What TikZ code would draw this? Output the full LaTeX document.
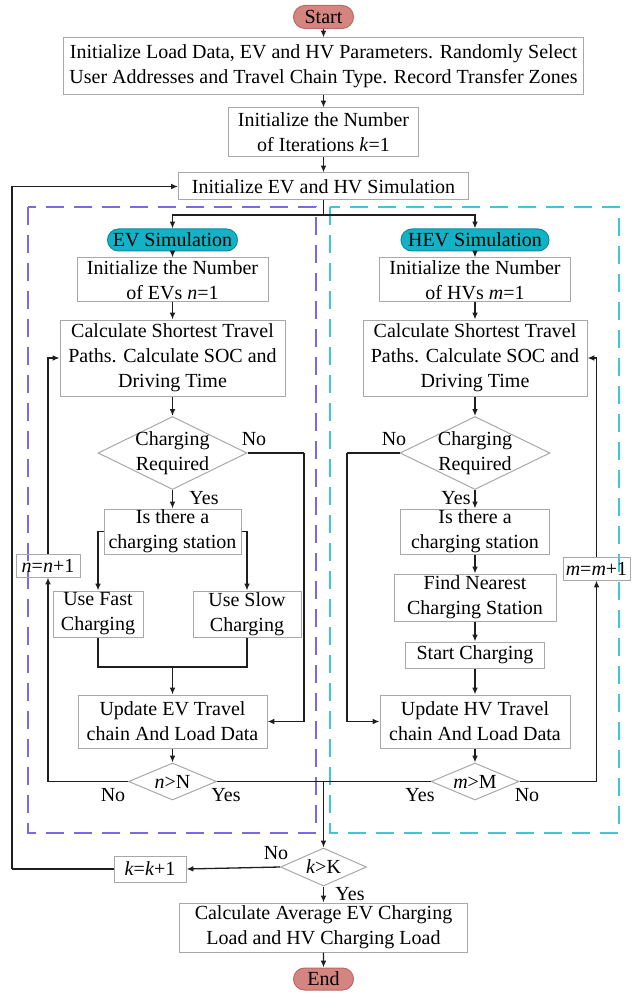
\documentclass[tikz,border=0pt]{standalone}
\usepackage{fontspec}
\setmainfont{Liberation Serif}
\usetikzlibrary{shapes.geometric,shapes.misc,arrows.meta}
\definecolor{boxgray}{HTML}{A8A8A8}
\definecolor{linec}{HTML}{1E1E1E}
\definecolor{pillred}{HTML}{D4857F}
\definecolor{pillredb}{HTML}{B96A66}
\definecolor{pillcyan}{HTML}{14B2C6}
\definecolor{pillcyanb}{HTML}{0A8C9E}
\definecolor{dashpurple}{HTML}{7A6AE2}
\definecolor{dashcyan}{HTML}{3CC6D8}
\begin{document}
\begin{tikzpicture}[x=0.5pt,y=-0.5pt,
  font=\fontsize{10}{12.5}\selectfont,
  bx/.style 2 args={draw=boxgray, line width=0.5pt, minimum width=#1*0.5pt, minimum height=#2*0.5pt, inner sep=0pt, align=center},
  dia/.style 2 args={draw=boxgray, line width=0.5pt, diamond, minimum width=#1*0.5pt, minimum height=#2*0.5pt, inner sep=0pt},
  pillr/.style 2 args={rounded rectangle, draw=pillredb, fill=pillred, line width=0.5pt, minimum width=#1*0.5pt, minimum height=#2*0.5pt, inner sep=0pt},
  pillc/.style 2 args={rounded rectangle, draw=pillcyanb, fill=pillcyan, line width=0.5pt, minimum width=#1*0.5pt, minimum height=#2*0.5pt, inner sep=0pt},
  txt/.style={inner sep=0pt, align=center},
  lbl/.style={inner sep=0pt},
  ln/.style={draw=linec, line width=0.65pt},
  arr/.style={draw=linec, line width=0.65pt, -{Latex[length=3.4pt,width=2.8pt]}},
  zonep/.style={draw=dashpurple, line width=0.6pt, dash pattern=on 9pt off 5pt},
  zonec/.style={draw=dashcyan, line width=0.75pt, dash pattern=on 9pt off 5pt}]
\useasboundingbox (0,0) rectangle (633,994);

% dashed zones
\draw[zonep] (28,207) rectangle (316,833);
\draw[zonec] (330,207) rectangle (619,833);

% main column
\node[pillr={60}{23}] (start) at (323.5,17) {Start};
\node[bx={520}{57}] (init) at (323.5,66.5) {Initialize Load Data, EV and HV Parameters. Randomly Select\\User Addresses and Travel Chain Type. Record Transfer Zones};
\node[bx={190}{49}] (iter) at (323.5,132.5) {Initialize the Number\\of Iterations \textit{k}=1};
\node[bx={290}{27}] (initsim) at (323.5,186.5) {Initialize EV and HV Simulation};

% EV column
\node[pillc={130}{22}] (evsim) at (172.5,240) {EV Simulation};
\node[bx={191}{44}] (evn) at (172.5,280) {Initialize the Number\\of EVs \textit{n}=1};
\node[bx={225}{76}] (evcalc) at (172.5,358) {Calculate Shortest Travel\\Paths. Calculate SOC and\\Driving Time};
\node[dia={149}{73}] (evq) at (172.5,453) {};
\node[txt] at (evq) {Charging\\Required};
\node[bx={137}{45}] (evst) at (172.5,531.5) {Is there a\\charging station};
\node[bx={90}{46}] (fast) at (98,614) {Use Fast\\Charging};
\node[bx={108}{46}] (slow) at (247,614) {Use Slow\\Charging};
\node[bx={189}{53}] (evupd) at (172.5,721.5) {Update EV Travel\\chain And Load Data};
\node[dia={88}{37}] (nq) at (172.5,781.5) {};
\node[txt] at (nq) {\textit{n}>N};
\node[bx={64}{23}] (ninc) at (48,565.5) {\textit{n}=\textit{n}+1};

% HEV column
\node[pillc={148}{22}] (hevsim) at (475,240) {HEV Simulation};
\node[bx={191}{44}] (hvm) at (475,280) {Initialize the Number\\of HVs \textit{m}=1};
\node[bx={224}{76}] (hvcalc) at (475,358) {Calculate Shortest Travel\\Paths. Calculate SOC and\\Driving Time};
\node[dia={150}{73}] (hvq) at (475,453) {};
\node[txt] at (hvq) {Charging\\Required};
\node[bx={149}{45}] (hvst) at (475,531.5) {Is there a\\charging station};
\node[bx={162}{47}] (find) at (475,597.5) {Find Nearest\\Charging Station};
\node[bx={139}{26}] (startch) at (475,655) {Start Charging};
\node[bx={190}{53}] (hvupd) at (475,721.5) {Update HV Travel\\chain And Load Data};
\node[dia={88}{37}] (mq) at (475,781.5) {};
\node[txt] at (mq) {\textit{m}>M};
\node[bx={67}{23}] (minc) at (596.5,568.5) {\textit{m}=\textit{m}+1};

% bottom
\node[dia={86}{38}] (kq) at (323.5,867) {};
\node[txt] at (kq) {\textit{k}>K};
\node[bx={72}{26}] (kinc) at (150,869) {\textit{k}=\textit{k}+1};
\node[bx={288}{49}] (avg) at (323.5,927.5) {Calculate Average EV Charging\\Load and HV Charging Load};
\node[pillr={60}{22}] (end) at (323.5,979) {End};

% coordinates
\coordinate (sp) at (323.5,215);
\coordinate (evno) at (304,453);
\coordinate (hvno) at (347,453);
\coordinate (mg) at (172.5,667);
\coordinate (jn) at (323.5,781.5);
\coordinate (klp) at (12,869);

% main connectors
\draw[arr] (start) -- (init);
\draw[arr] (init) -- (iter);
\draw[arr] (iter) -- (initsim);
\draw[ln] (initsim.south) -- (sp);
\draw[arr] (sp) -| (evsim.north);
\draw[arr] (sp) -| (hevsim.north);

% EV connectors
\draw[arr] (evsim) -- (evn);
\draw[arr] (evn) -- (evcalc);
\draw[arr] (evcalc) -- (evq);
\draw[arr] (evq.south) -- (evst.north);
\draw[ln] (evq.east) -- (evno);
\draw[arr] (evno) |- (evupd.east);
\draw[arr] (evst.west) -| (fast.north);
\draw[arr] (evst.east) -| (slow.north);
\draw[ln] (fast.south) |- (mg) -| (slow.south);
\draw[arr] (mg) -- (evupd.north);
\draw[arr] (evupd) -- (nq);
\draw[arr] (nq.west) -| (ninc.south);
\draw[arr] (ninc.north) |- (evcalc.west);

% HEV connectors
\draw[arr] (hevsim) -- (hvm);
\draw[arr] (hvm) -- (hvcalc);
\draw[arr] (hvcalc) -- (hvq);
\draw[arr] (hvq.south) -- (hvst.north);
\draw[ln] (hvq.west) -- (hvno);
\draw[arr] (hvno) |- (hvupd.west);
\draw[arr] (hvst) -- (find);
\draw[arr] (find) -- (startch);
\draw[arr] (startch) -- (hvupd);
\draw[arr] (hvupd) -- (mq);
\draw[arr] (mq.east) -| (minc.south);
\draw[arr] (minc.north) |- (hvcalc.east);

% bottom connectors
\draw[ln] (nq.east) -- (jn);
\draw[ln] (mq.west) -- (jn);
\draw[arr] (jn) -- (kq.north);
\draw[arr] (kq.west) -- (kinc.east);
\draw[ln] (kinc.west) -- (klp);
\draw[arr] (klp) |- (initsim.west);
\draw[arr] (kq.south) -- (avg.north);
\draw[arr] (avg) -- (end);

% labels
\node[lbl] at (254,439) {No};
\node[lbl] at (204,498) {Yes};
\node[lbl] at (394,439) {No};
\node[lbl] at (456,498) {Yes};
\node[lbl] at (113,795) {No};
\node[lbl] at (226,795) {Yes};
\node[lbl] at (420,795) {Yes};
\node[lbl] at (527,795) {No};
\node[lbl] at (276,853) {No};
\node[lbl] at (350,894) {Yes};
\end{tikzpicture}
\end{document}
